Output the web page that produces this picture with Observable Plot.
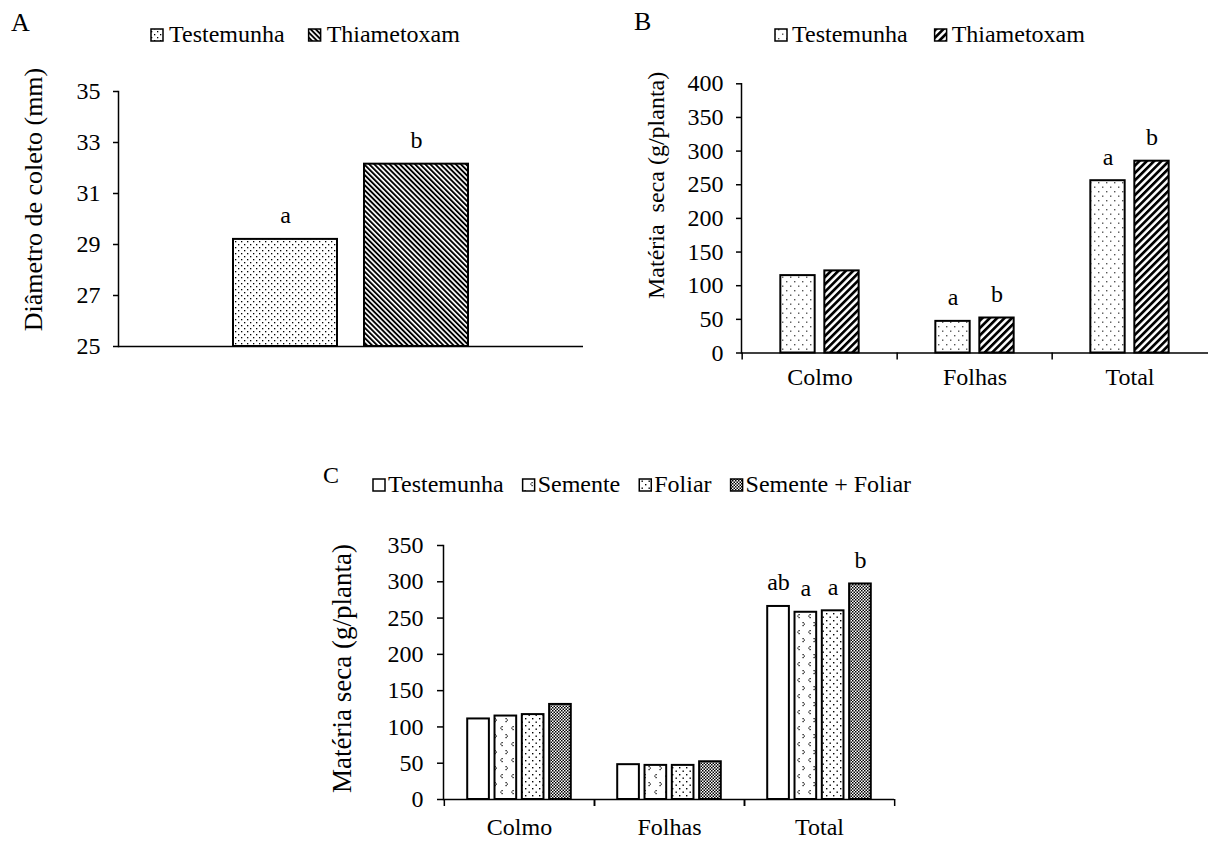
<!DOCTYPE html>
<html><head><meta charset="utf-8">
<script src="https://cdn.jsdelivr.net/npm/d3@7"></script>
<script src="https://cdn.jsdelivr.net/npm/@observablehq/plot@0.6"></script>
<style>
body{margin:0;background:#fff;width:1209px;height:841px;position:relative;overflow:hidden;font-family:"Liberation Serif","Times New Roman",Times,serif;}
.panel{position:absolute;}
svg text{font-family:"Liberation Serif","Times New Roman",Times,serif;}
</style></head><body>
<svg width="0" height="0" style="position:absolute">
<defs>
<pattern id="pA1" patternUnits="userSpaceOnUse" width="6" height="6">
<rect width="6" height="6" fill="white"/><rect x="1" y="1" width="1.3" height="1.3" fill="black"/><rect x="4" y="4" width="1.3" height="1.3" fill="black"/>
</pattern>
<pattern id="pA2" patternUnits="userSpaceOnUse" width="3.6" height="3.6" patternTransform="rotate(-45)">
<rect width="3.6" height="3.6" fill="white"/><rect width="1.9" height="3.6" fill="black"/>
</pattern>
<pattern id="pB1" patternUnits="userSpaceOnUse" width="8" height="9">
<rect width="8" height="9" fill="white"/><rect x="2" y="2" width="1.4" height="1.4" fill="#555"/><rect x="6" y="6.5" width="1.4" height="1.4" fill="#555"/>
</pattern>
<pattern id="pB2" patternUnits="userSpaceOnUse" width="5.2" height="5.2" patternTransform="rotate(45)">
<rect width="5.2" height="5.2" fill="white"/><rect width="2.7" height="5.2" fill="black"/>
</pattern>
<pattern id="pC2" patternUnits="userSpaceOnUse" width="11" height="16">
<rect width="11" height="16" fill="white"/>
<rect x="3.5" y="2" width="1.2" height="1.2" fill="black"/><rect x="2.3" y="3.5" width="1.2" height="1.2" fill="black"/><rect x="3.5" y="5" width="1.2" height="1.2" fill="black"/>
<rect x="7.5" y="10" width="1.2" height="1.2" fill="black"/><rect x="8.7" y="11.5" width="1.2" height="1.2" fill="black"/><rect x="7.5" y="13" width="1.2" height="1.2" fill="black"/>
</pattern>
<pattern id="pC3" patternUnits="userSpaceOnUse" width="7" height="7">
<rect width="7" height="7" fill="white"/><rect x="1" y="1" width="1.4" height="1.4" fill="black"/><rect x="4.5" y="4.5" width="1.4" height="1.4" fill="black"/>
</pattern>
<pattern id="pC4" patternUnits="userSpaceOnUse" width="3" height="3">
<rect width="3" height="3" fill="white"/><rect x="0" y="0" width="1.5" height="1.5" fill="black"/><rect x="1.5" y="1.5" width="1.5" height="1.5" fill="black"/>
</pattern>
</defs></svg>
<script>
// ---------- DATA ----------
// Panel A
const seriesA = ["Testemunha", "Thiametoxam"];
const valuesA = [29.2, 32.15];
const lettersA = ["a", "b"];
const ticksA = [25, 27, 29, 31, 33, 35];
const yLabelA = "Diâmetro de coleto (mm)";

// Panel B
const categoriesB = ["Colmo", "Folhas", "Total"];
const seriesB = ["Testemunha", "Thiametoxam"];
const testemunhaB = [115, 47, 256];
const thiametoxamB = [122, 52, 285];
const lettersTestemunhaB = ["", "a", "a"];
const lettersThiametoxamB = ["", "b", "b"];
const ticksB = [0, 50, 100, 150, 200, 250, 300, 350, 400];
const yLabelB = "Matéria\u00A0 seca (g/planta)";

// Panel C
const categoriesC = ["Colmo", "Folhas", "Total"];
const seriesC = ["Testemunha", "Semente", "Foliar", "Semente + Foliar"];
const testemunhaC = [111, 48, 266];
const sementeC = [115, 47, 258];
const foliarC = [117, 47, 260];
const sementeFoliarC = [131, 52, 297];
const lettersTestemunhaC = ["", "", "ab"];
const lettersSementeC = ["", "", "a"];
const lettersFoliarC = ["", "", "a"];
const lettersSementeFoliarC = ["", "", "b"];
const ticksC = [0, 50, 100, 150, 200, 250, 300, 350];
const yLabelC = "Matéria seca (g/planta)";

// ---------- STYLE ----------
const FONT = '"Liberation Serif","Times New Roman",Times,serif';
const fillsA = ["url(#pA1)", "url(#pA2)"];
const fillsB = ["url(#pB1)", "url(#pB2)"];
const fillsC = ["white", "url(#pC2)", "url(#pC3)", "url(#pC4)"];
const baseStyle = {fontFamily: FONT, fontSize: "24px", color: "black", background: "transparent", overflow: "visible"};

function insets(bw, n, w, g, i) {
  const group = n * w + (n - 1) * g;
  const left = bw / 2 - group / 2 + i * (w + g);
  return {insetLeft: left, insetRight: bw - left - w};
}
function offset(n, w, g, i) {
  return -(n * w + (n - 1) * g) / 2 + i * (w + g) + w / 2;
}
function place(el, left, top) {
  const d = document.createElement("div");
  d.className = "panel";
  d.style.left = left + "px";
  d.style.top = top + "px";
  d.appendChild(el);
  document.body.appendChild(d);
}

// ---------- PANEL A ----------
const tableA = seriesA.map((s, i) => ({series: s, value: valuesA[i], letter: lettersA[i]}));
const plotA = Plot.plot({
  width: 600, height: 400, marginLeft: 118, marginRight: 17, marginTop: 91, marginBottom: 54,
  style: baseStyle,
  x: {domain: seriesA, range: [232, 469], paddingInner: 0.2045, paddingOuter: 0, axis: null},
  y: {domain: [25, 35]},
  marks: [
    ...seriesA.map((s, i) => Plot.barY(tableA.filter(d => d.series === s),
      {x: "series", y1: 25, y2: "value", fill: fillsA[i], stroke: "black", strokeWidth: 2})),
    Plot.text(tableA, {x: "series", y: "value", text: "letter", dy: -16, lineAnchor: "bottom", fontSize: 24}),
    Plot.ruleY([25], {strokeWidth: 1.5}),
    Plot.frame({anchor: "left", strokeWidth: 1.5}),
    Plot.axisY({ticks: ticksA, tickSize: 5, tickPadding: 13, fontSize: 24, label: null, strokeWidth: 1.5}),
    Plot.text([yLabelA], {text: d => d, frameAnchor: "left", rotate: -90, textAnchor: "middle", dx: -84.5, dy: -19.5, fontSize: 26})
  ]
});
place(plotA, 0, 0);

// ---------- PANEL B ----------
const tableB = [];
categoriesB.forEach((c, j) => {
  tableB.push({category: c, series: seriesB[0], value: testemunhaB[j], letter: lettersTestemunhaB[j]});
  tableB.push({category: c, series: seriesB[1], value: thiametoxamB[j], letter: lettersThiametoxamB[j]});
});
const geoB = {width: 609, height: 420, ml: 141, mr: 1, mt: 83.3, mb: 67.5};
const bwB = (geoB.width - geoB.ml - geoB.mr) / categoriesB.length;
const plotB = Plot.plot({
  width: geoB.width, height: geoB.height, marginLeft: geoB.ml, marginRight: geoB.mr, marginTop: geoB.mt, marginBottom: geoB.mb,
  style: baseStyle,
  x: {domain: categoriesB, padding: 0},
  y: {domain: [0, 400]},
  marks: [
    ...seriesB.map((s, i) => Plot.barY(tableB.filter(d => d.series === s),
      {x: "category", y: "value", fill: fillsB[i], stroke: "black", strokeWidth: 2, ...insets(bwB, 2, 35, 9, i)})),
    ...seriesB.map((s, i) => Plot.text(tableB.filter(d => d.series === s && d.letter),
      {x: "category", y: "value", text: "letter", dx: offset(2, 35, 9, i), dy: -16, lineAnchor: "bottom", fontSize: 24})),
    Plot.ruleY([0], {strokeWidth: 1.5}),
    Plot.frame({anchor: "left", strokeWidth: 1.5}),
    Plot.axisY({ticks: ticksB, tickSize: 5, tickPadding: 13, fontSize: 24, label: null, strokeWidth: 1.5}),
    Plot.axisX({tickSize: 7, tickFormat: () => "", label: null, dx: -bwB / 2, strokeWidth: 1.5}),
    Plot.axisX({tickSize: 0, tickPadding: 14.5, fontSize: 24, label: null}),
    Plot.text([yLabelB], {text: d => d, frameAnchor: "left", rotate: -90, textAnchor: "middle", dx: -85, dy: -33, fontSize: 24})
  ]
});
place(plotB, 600, 0);

// ---------- PANEL C ----------
const seriesValuesC = [testemunhaC, sementeC, foliarC, sementeFoliarC];
const seriesLettersC = [lettersTestemunhaC, lettersSementeC, lettersFoliarC, lettersSementeFoliarC];
const tableC = [];
categoriesC.forEach((c, j) => {
  seriesC.forEach((s, i) => tableC.push({category: c, series: s, value: seriesValuesC[i][j], letter: seriesLettersC[i][j]}));
});
const geoC = {width: 620, height: 341, ml: 143, mr: 26, mt: 45, mb: 42};
const bwC = (geoC.width - geoC.ml - geoC.mr) / categoriesC.length;
const plotC = Plot.plot({
  width: geoC.width, height: geoC.height, marginLeft: geoC.ml, marginRight: geoC.mr, marginTop: geoC.mt, marginBottom: geoC.mb,
  style: baseStyle,
  x: {domain: categoriesC, padding: 0},
  y: {domain: [0, 350]},
  marks: [
    ...seriesC.map((s, i) => Plot.barY(tableC.filter(d => d.series === s),
      {x: "category", y: "value", fill: fillsC[i], stroke: "black", strokeWidth: 2, ...insets(bwC, 4, 22, 5.3, i)})),
    ...seriesC.map((s, i) => Plot.text(tableC.filter(d => d.series === s && d.letter),
      {x: "category", y: "value", text: "letter", dx: offset(4, 22, 5.3, i), dy: -16, lineAnchor: "bottom", fontSize: 24})),
    Plot.ruleY([0], {strokeWidth: 1.5}),
    Plot.frame({anchor: "left", strokeWidth: 1.5}),
    Plot.axisY({ticks: ticksC, tickSize: 6, tickPadding: 14, fontSize: 24, label: null, strokeWidth: 1.5}),
    Plot.axisX({tickSize: 7, tickFormat: () => "", label: null, dx: -bwC / 2, strokeWidth: 1.5}),
    Plot.axisX({tickSize: 7, tickFormat: () => "", label: null, dx: bwC / 2, strokeWidth: 1.5}),
    Plot.axisX({tickSize: 0, tickPadding: 18, fontSize: 24, label: null}),
    Plot.text([yLabelC], {text: d => d, frameAnchor: "left", rotate: -90, textAnchor: "middle", dx: -101, dy: -4, fontSize: 27})
  ]
});
place(plotC, 300, 500);

// ---------- LEGENDS & PANEL LETTERS (overlay) ----------
const overlay = d3.select(document.body).append("svg")
  .attr("width", 1209).attr("height", 841)
  .style("position", "absolute").style("left", "0px").style("top", "0px")
  .style("pointer-events", "none");

function legend(labels, fills, x0, baseline, textOffset, gap) {
  let x = x0;
  labels.forEach((label, i) => {
    overlay.append("rect").attr("x", x).attr("y", baseline - 13).attr("width", 12).attr("height", 12)
      .attr("fill", fills[i]).attr("stroke", "black").attr("stroke-width", 1.5);
    const t = overlay.append("text").attr("x", x + textOffset).attr("y", baseline)
      .attr("font-size", 24).attr("fill", "black").text(label);
    x = x + textOffset + t.node().getComputedTextLength() + gap;
  });
}
legend(seriesA, fillsA, 151, 42, 18, 24);
legend(seriesB, fillsB, 775, 42, 17, 27);
legend(seriesC, fillsC, 373, 492, 15, 19);

overlay.append("text").attr("x", 11).attr("y", 31).attr("font-size", 26).text("A");
overlay.append("text").attr("x", 634).attr("y", 30).attr("font-size", 26).text("B");
overlay.append("text").attr("x", 323).attr("y", 483).attr("font-size", 24).text("C");
</script>
</body></html>
